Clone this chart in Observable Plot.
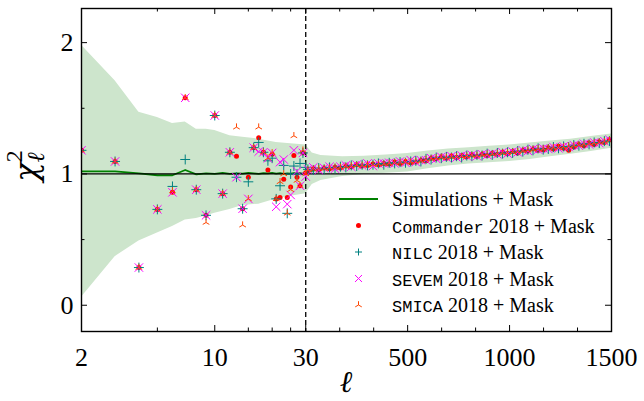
<!DOCTYPE html>
<html><head><meta charset="utf-8">
<script src="https://cdn.jsdelivr.net/npm/d3@7"></script>
<script src="https://cdn.jsdelivr.net/npm/@observablehq/plot@0.6"></script>
<style>
html,body{margin:0;padding:0;background:#fff;}
#chart{width:644px;height:401px;}
svg text{white-space:pre;}
</style></head><body><div id="chart"></div>
<script>
// ---------- data ----------
const lowEll = [2,3,4,5,6,7,8,9,10,11,12,13,14,15,16,17,18,19,20,21,22,23,24,25,26,27,28,29,30];
const commanderLow = [1.18,1.095,0.287,0.73,0.86,1.58,0.88,0.685,1.445,0.85,1.165,1.135,0.735,0.975,1.20,1.275,1.165,1.03,1.15,0.81,0.82,0.96,0.82,0.90,1.14,0.975,0.91,1.16,1.01];
const nilcLow      = [1.18,1.095,0.287,0.73,0.905,1.11,0.88,0.685,1.445,0.85,1.165,0.975,0.735,0.94,1.20,1.24,1.165,1.10,1.12,0.81,0.91,1.065,0.70,1.0,1.06,1.0,1.08,1.16,1.05];
const sevemLow     = [1.18,1.095,0.287,0.73,0.86,1.58,0.88,0.685,1.445,0.85,1.165,0.975,0.735,0.81,1.20,1.17,1.165,1.12,1.16,0.75,1.09,1.11,0.77,0.84,1.18,1.02,0.91,1.16,0.98];
const smicaLow     = [1.18,1.095,0.287,0.73,0.87,1.58,0.88,0.63,1.445,0.85,1.165,1.356,0.61,0.81,1.20,1.356,1.165,1.12,1.16,0.81,0.94,1.0,0.70,0.88,1.29,0.95,0.91,1.18,1.0];

const highEll = [40,65,90,115,140,165,190,215,240,265,290,315,340,365,390,415,440,465,490,515,540,565,590,615,640,665,690,715,740,765,790,815,840,865,890,915,940,965,990,1015,1040,1065,1090,1115,1140,1165,1190,1215,1240,1265,1290,1315,1340,1365,1390,1415,1440,1465,1490];
const commanderHigh = [1.025,1.04,1.03,1.045,1.04,1.05,1.045,1.06,1.055,1.07,
  1.06,1.065,1.075,1.07,1.08,1.075,1.09,1.08,1.095,1.085,
  1.09,1.105,1.10,1.12,1.115,1.13,1.12,1.135,1.125,1.14,
  1.13,1.145,1.135,1.15,1.14,1.155,1.15,1.165,1.155,1.17,
  1.16,1.18,1.175,1.19,1.18,1.185,1.20,1.19,1.21,1.195,
  1.18,1.205,1.225,1.215,1.235,1.225,1.245,1.24,1.26];
const nilcHigh = [1.035,1.03,1.045,1.035,1.05,1.04,1.055,1.05,1.065,1.06,
  1.07,1.065,1.07,1.08,1.07,1.085,1.08,1.09,1.085,1.095,
  1.10,1.095,1.115,1.11,1.125,1.12,1.13,1.125,1.135,1.125,
  1.14,1.135,1.145,1.14,1.155,1.145,1.16,1.155,1.165,1.16,
  1.175,1.17,1.185,1.18,1.195,1.185,1.19,1.205,1.195,1.21,
  1.205,1.22,1.215,1.23,1.225,1.24,1.235,1.25,1.25];
const sevemHigh = [1.035,1.05,1.03,1.045,1.055,1.04,1.055,1.065,1.055,1.07,
  1.065,1.08,1.06,1.08,1.08,1.085,1.08,1.095,1.085,1.105,
  1.09,1.105,1.105,1.12,1.115,1.13,1.125,1.135,1.125,1.14,
  1.135,1.145,1.135,1.15,1.145,1.155,1.15,1.165,1.155,1.17,
  1.165,1.18,1.175,1.19,1.185,1.195,1.19,1.205,1.195,1.21,
  1.205,1.22,1.215,1.23,1.225,1.24,1.235,1.25,1.26];
const smicaHigh = [1.03,1.035,1.04,1.04,1.045,1.05,1.05,1.055,1.06,1.065,
  1.065,1.07,1.07,1.075,1.075,1.08,1.085,1.085,1.09,1.09,
  1.095,1.10,1.11,1.115,1.12,1.125,1.125,1.13,1.13,1.13,
  1.135,1.14,1.14,1.145,1.15,1.15,1.155,1.16,1.16,1.165,
  1.17,1.175,1.18,1.185,1.19,1.19,1.195,1.20,1.20,1.205,
  1.21,1.215,1.22,1.225,1.23,1.235,1.24,1.245,1.255];

const simEll  = [2,3,4,5,6,7,8,9,10,11,12,13,14,15,16,17,18,19,20,21,22,23,24,25,26,27,28,29,30,40,100,200,300,400,500,600,700,800,900,1000,1100,1200,1300,1400,1500];
const simMean = [1.02,1.02,1.005,0.99,0.99,1.03,0.997,1.005,1.0,1.008,1.0,1.005,1.003,1.008,1.004,1.0,1.006,1.004,1.008,1.003,1.006,1.0,1.005,1.003,1.007,1.004,1.006,1.003,1.01,1.02,1.035,1.05,1.065,1.075,1.09,1.11,1.125,1.135,1.15,1.16,1.18,1.195,1.21,1.23,1.25];

const bandEll = [2,3,4,5,6,7,8,9,10,12,14,17,21,25,30,60,100,200,300,400,500,600,700,800,900,1000,1100,1200,1300,1400,1500];
const bandHi  = [1.98,1.71,1.47,1.43,1.385,1.395,1.34,1.34,1.33,1.29,1.28,1.265,1.24,1.23,1.22,1.16,1.14,1.13,1.135,1.145,1.155,1.175,1.19,1.20,1.21,1.22,1.235,1.25,1.265,1.285,1.305];
const bandLo  = [0.06,0.37,0.49,0.55,0.60,0.65,0.66,0.68,0.70,0.73,0.76,0.77,0.81,0.83,0.85,0.92,0.95,0.98,0.995,1.005,1.015,1.04,1.06,1.075,1.085,1.095,1.11,1.13,1.15,1.17,1.195];

const xMajorTicks = [2,10,30,500,1000,1500];
const xMinorTicks = [5,15,20,25,186.67,343.33,666.67,833.33,1166.67,1333.33];
const yMajorTicks = [0,1,2];
const yMinorTicks = [0.5,1.5];
const splitEll = 30;

const seriesNames = ["Commander","NILC","SEVEM","SMICA"];
const seriesColors = {Commander:"#ff0000", NILC:"#008080", SEVEM:"#ff00ff", SMICA:"#ff4500"};

// ---------- hybrid x scale (log up to 30, then linear segments) ----------
const LOG_SPAN = 2.2;
function U(l){
  if (l <= splitEll) return LOG_SPAN * Math.log10(l/2) / Math.log10(splitEll/2);
  if (l <= 500) return LOG_SPAN + (l-30)/470;
  if (l <= 1000) return LOG_SPAN + 1 + (l-500)/500;
  return LOG_SPAN + 2 + (l-1000)/500;
}

const mk = (ells, vals) => ells.map((l,i)=>({l, v: vals[i]}));
const comm = mk(lowEll, commanderLow).concat(mk(highEll, commanderHigh));
const nilc = mk(lowEll, nilcLow).concat(mk(highEll, nilcHigh));
const sevem = mk(lowEll, sevemLow).concat(mk(highEll, sevemHigh));
const smica = mk(lowEll, smicaLow).concat(mk(highEll, smicaHigh));
const sim = mk(simEll, simMean);
const band = bandEll.map((l,i)=>({l, lo: bandLo[i], hi: bandHi[i]}));

const triSymbol = {draw(ctx, size){
  const r = Math.sqrt(size/Math.PI);
  for (const d of [-90, 30, 150]){ const t = d*Math.PI/180; ctx.moveTo(0,0); ctx.lineTo(r*Math.cos(t), r*Math.sin(t)); }
}};

const W = 530, H = 323;
const serif = "'Liberation Serif', 'DejaVu Serif', serif";
const majorU = xMajorTicks.map(U);
const fmtX = d => { const i = majorU.findIndex(u => Math.abs(u-d) < 1e-9); return i >= 0 ? String(xMajorTicks[i]) : ""; };

const chart = Plot.plot({
  width: 644, height: 401,
  marginLeft: 81, marginRight: 33, marginTop: 8, marginBottom: 70,
  x: {domain: [0, U(1500)]},
  y: {domain: [-0.2, 2.26]},
  style: {fontFamily: serif, background: "white", color: "black", overflow: "visible"},
  marks: [
    Plot.areaY(band, {x: d=>U(d.l), y1: "lo", y2: "hi", fill: "rgb(205,229,204)", clip: true}),
    Plot.line(sim, {x: d=>U(d.l), y: "v", stroke: "#008000", strokeWidth: 1.8, clip: true}),
    Plot.ruleY([1], {stroke: "black", strokeWidth: 1.3}),
    Plot.ruleX([splitEll], {x: d=>U(d), stroke: "black", strokeWidth: 1.3, strokeDasharray: "5,3"}),
    Plot.dot(comm, {x: d=>U(d.l), y: "v", r: 2.5, fill: seriesColors.Commander, clip: true}),
    Plot.dot(nilc, {x: d=>U(d.l), y: "v", symbol: "plus", r: 3.3, stroke: seriesColors.NILC, strokeWidth: 1, fill: "none", clip: true}),
    Plot.dot(sevem, {x: d=>U(d.l), y: "v", symbol: "times", r: 3.9, stroke: seriesColors.SEVEM, strokeWidth: 1, fill: "none", clip: true}),
    Plot.dot(smica, {x: d=>U(d.l), y: "v", symbol: triSymbol, r: 3.8, stroke: seriesColors.SMICA, strokeWidth: 1, fill: "none", clip: true}),
    // inward ticks
    Plot.tickX(xMajorTicks, {x: d=>U(d), insetTop: H-6, stroke: "black"}),
    Plot.tickX(xMinorTicks, {x: d=>U(d), insetTop: H-3.5, stroke: "black"}),
    Plot.tickX(xMajorTicks, {x: d=>U(d), insetBottom: H-6, stroke: "black"}),
    Plot.tickX(xMinorTicks, {x: d=>U(d), insetBottom: H-3.5, stroke: "black"}),
    Plot.tickY(yMajorTicks, {y: d=>d, insetRight: W-6, stroke: "black"}),
    Plot.tickY(yMinorTicks, {y: d=>d, insetRight: W-3.5, stroke: "black"}),
    Plot.tickY(yMajorTicks, {y: d=>d, insetLeft: W-6, stroke: "black"}),
    Plot.tickY(yMinorTicks, {y: d=>d, insetLeft: W-3.5, stroke: "black"}),
    Plot.frame({stroke: "black", strokeWidth: 1.4}),
    Plot.axisX({ticks: majorU, anchor: "bottom", tickSize: 0, tickPadding: 16, tickFormat: fmtX, fontSize: 26, fontFamily: serif, label: null}),
    Plot.axisY({ticks: yMajorTicks, anchor: "left", tickSize: 0, tickPadding: 8, tickFormat: d => String(d), fontSize: 26, fontFamily: serif, label: null})
  ]
});
document.getElementById("chart").appendChild(chart);

// ---------- axis labels & legend ----------
const svg = d3.select(chart);
const yl = svg.append("text")
  .attr("transform", "translate(37,166) rotate(-90)")
  .attr("text-anchor", "middle")
  .attr("font-family", "'DejaVu Serif', serif").attr("font-style", "italic").attr("font-size", 32).attr("fill", "black");
yl.append("tspan").text("χ");
yl.append("tspan").attr("font-family", serif).attr("font-size", 24).attr("font-style", "normal").attr("dy", -15).text("2");
yl.append("tspan").attr("font-family", serif).attr("font-size", 24).attr("dx", -12).attr("dy", 22).text("ℓ");

svg.append("text").attr("x", 346).attr("y", 392).attr("text-anchor", "middle")
  .attr("font-family", serif).attr("font-style", "italic").attr("font-size", 30).attr("fill", "black").text("ℓ");

const lg = svg.append("g").attr("text-anchor", "start");
const rowY = [199, 225.5, 252, 278.5, 305];
const sx = 358.5, tx = 392;
lg.append("line").attr("x1", 339).attr("x2", 378).attr("y1", rowY[0]).attr("y2", rowY[0]).attr("stroke", "#008000").attr("stroke-width", 1.8);
lg.append("circle").attr("cx", sx).attr("cy", rowY[1]).attr("r", 2.5).attr("fill", seriesColors.Commander);
lg.append("path").attr("d", `M${sx-3.5},${rowY[2]}h7M${sx},${rowY[2]-3.5}v7`).attr("stroke", seriesColors.NILC).attr("fill", "none");
lg.append("path").attr("d", `M${sx-3.5},${rowY[3]-3.5}l7,7M${sx-3.5},${rowY[3]+3.5}l7,-7`).attr("stroke", seriesColors.SEVEM).attr("fill", "none");
{
  const p = d3.path(); const r = 3.8;
  for (const d of [-90,30,150]){ const t=d*Math.PI/180; p.moveTo(0,0); p.lineTo(r*Math.cos(t), r*Math.sin(t)); }
  lg.append("path").attr("transform", `translate(${sx},${rowY[4]})`).attr("d", p.toString()).attr("stroke", seriesColors.SMICA).attr("fill", "none");
}
lg.append("text").attr("x", tx).attr("y", rowY[0]+7).attr("text-anchor", "start").attr("font-family", serif).attr("font-size", 20).attr("fill", "black").text("Simulations + Mask");
seriesNames.forEach((name, i) => {
  const t = lg.append("text").attr("x", tx).attr("y", rowY[i+1]+7).attr("text-anchor", "start").attr("font-family", serif).attr("font-size", 20).attr("fill", "black");
  t.append("tspan").attr("font-family", "'Liberation Mono', 'DejaVu Sans Mono', monospace").attr("font-size", 17).text(name);
  t.append("tspan").text(" 2018 + Mask");
});
</script></body></html>
